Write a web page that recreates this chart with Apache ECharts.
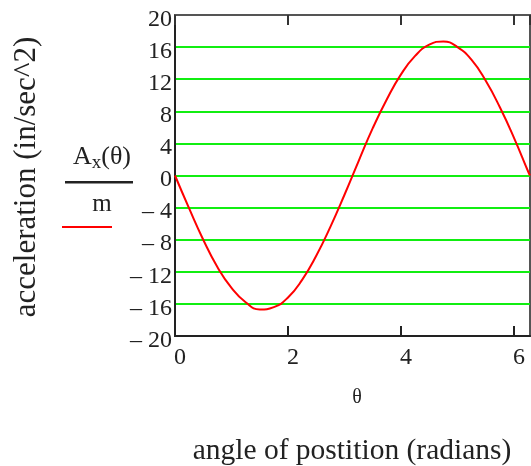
<!DOCTYPE html>
<html>
<head>
<meta charset="utf-8">
<script src="https://cdn.jsdelivr.net/npm/echarts@6/dist/echarts.min.js"></script>
<style>html,body{margin:0;padding:0;background:#fff;}#c{width:531px;height:466px;}</style>
</head>
<body>
<div id="c"></div>
<script>
// theta (radians) and Ax(theta)/m (in/sec^2)
var theta = [0, 0.25, 0.5, 0.75, 1.0, 1.25, 1.5, 1.75, 2.0, 2.25, 2.5, 2.75, 3.0, 3.25, 3.5, 3.75, 4.0, 4.25, 4.5, 4.75, 5.0, 5.25, 5.5, 5.75, 6.0, 6.25, 6.283];
var accel = [0, -4.1, -8.0, -11.4, -14.0, -15.8, -16.7, -16.4, -15.2, -13.0, -10.0, -6.4, -2.4, 1.8, 5.9, 9.5, 12.6, 14.9, 16.3, 16.7, 16.0, 14.4, 11.8, 8.5, 4.7, 0.5, 0];
var yTicks = [-20, -16, -12, -8, -4, 0, 4, 8, 12, 16, 20];
var xTicks = [0, 2, 4, 6];
var xMax = 6.2832;

var pts = theta.map(function (t, i) { return [t, accel[i]]; });
var serif = '"Liberation Serif", "DejaVu Serif", serif';
var chart = echarts.init(document.getElementById('c'));
chart.setOption({
  animation: false,
  grid: { left: 175, right: 1, top: 15, bottom: 130, show: true, borderColor: '#555', borderWidth: 2, containLabel: false },
  xAxis: [{
    type: 'value', min: 0, max: xMax, interval: 2, position: 'bottom',
    axisLine: { show: true, onZero: false, lineStyle: { color: '#222', width: 2 } },
    axisTick: { show: true, inside: true, length: 10, lineStyle: { color: '#222', width: 2 } },
    axisLabel: { show: true, showMaxLabel: false, color: '#222', fontFamily: serif, fontSize: 24, margin: 10,
      padding: [0, 0, 0, 10],
      formatter: function (v) { return xTicks.indexOf(v) >= 0 ? String(v) : ''; } },
    splitLine: { show: false }
  }, {
    type: 'value', min: 0, max: xMax, interval: 2, position: 'top',
    axisLine: { show: true, onZero: false, lineStyle: { color: '#555', width: 2 } },
    axisTick: { show: true, inside: true, length: 10, lineStyle: { color: '#333', width: 2 } },
    axisLabel: { show: false },
    splitLine: { show: false }
  }],
  yAxis: {
    type: 'value', min: -20, max: 20, interval: 4,
    axisLine: { show: true, onZero: false, lineStyle: { color: '#222', width: 2 } },
    axisTick: { show: false },
    axisLabel: { margin: 3,
      formatter: function (v) { return '{v|' + (v < 0 ? '\u2013 ' + Math.abs(v) : String(v)) + '}'; },
      rich: { v: { color: '#222', fontFamily: serif, fontSize: 24, padding: [9, 0, 0, 0] } } },
    splitLine: { show: true, lineStyle: { color: '#11ee11', width: 2 } }
  },
  series: [{
    type: 'line', data: pts, smooth: true, symbol: 'none', xAxisIndex: 0,
    lineStyle: { color: '#ff0000', width: 2 }, z: 3
  }],
  graphic: [
    { type: 'text', x: 27, y: 177, rotation: Math.PI / 2, style: { text: 'acceleration (in/sec^2)', font: '31px ' + serif, fill: '#222', align: 'center', verticalAlign: 'middle' } },
    { type: 'text', x: 102, y: 157, style: { text: '{a|A}{s|x}{a|(\u03b8)}', align: 'center', verticalAlign: 'middle',
      rich: { a: { font: '26px ' + serif, fill: '#222' }, s: { font: '19px ' + serif, fill: '#222', padding: [13, 0, 0, 0] } } } },
    { type: 'rect', shape: { x: 65, y: 181, width: 68, height: 2.5 }, style: { fill: '#222' } },
    { type: 'text', x: 102, y: 204, style: { text: 'm', font: '25px ' + serif, fill: '#222', align: 'center', verticalAlign: 'middle' } },
    { type: 'rect', shape: { x: 62, y: 226, width: 50, height: 2 }, style: { fill: '#ff0000' } },
    { type: 'text', x: 357, y: 398, style: { text: '\u03b8', font: '20px ' + serif, fill: '#222', align: 'center', verticalAlign: 'middle' } },
    { type: 'text', x: 352, y: 451, style: { text: 'angle of postition (radians)', font: '29.5px ' + serif, fill: '#222', align: 'center', verticalAlign: 'middle' } }
  ]
});
</script>
</body>
</html>
